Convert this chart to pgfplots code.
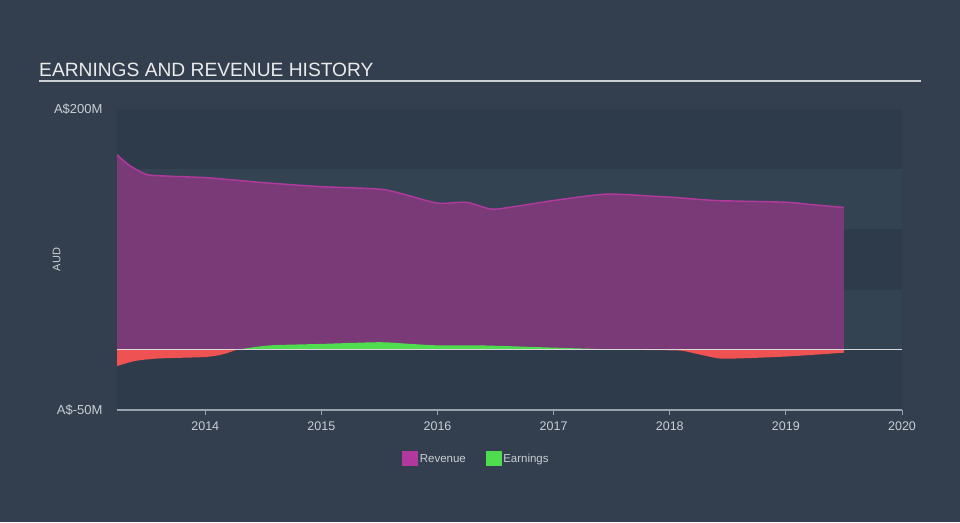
\documentclass[border=0pt]{standalone}
\usepackage{pgfplots}
\pgfplotsset{compat=1.18}
\usepackage{fontspec}
\setmainfont{Liberation Sans}
\definecolor{bg}{HTML}{333F4E}
\definecolor{banddark}{HTML}{2D3B4A}
\definecolor{bandlight}{HTML}{344352}
\definecolor{revfill}{HTML}{7A3A77}
\definecolor{revline}{HTML}{B23A9E}
\definecolor{revleg}{HTML}{B0399E}
\definecolor{earnpos}{HTML}{4FDC4F}
\definecolor{earnneg}{HTML}{EE5252}
\definecolor{txt}{HTML}{C9CED4}
\definecolor{axisgray}{HTML}{9AA3AD}
\begin{document}
\begin{tikzpicture}
\fill[bg] (0pt,0pt) rectangle (960pt,522pt);
\node[anchor=base west, text=white!92!black, font=\fontsize{19.2}{23}\selectfont, inner sep=0pt] at (39pt,445.5pt) {EARNINGS AND REVENUE HISTORY};
\draw[color=white!75!bg, line width=1.5pt] (39pt,441pt) -- (921pt,441pt);
\begin{axis}[
  at={(117pt,112pt)}, anchor=south west,
  width=785pt, height=301pt, scale only axis,
  xmin=2013.24, xmax=2020, ymin=-50, ymax=200,
  axis background/.style={fill=banddark},
  axis x line*=bottom, axis y line*=left,
  y axis line style={draw=none},
  x axis line style={draw=axisgray, line width=1.2pt, -},
  xtick={2014,2015,2016,2017,2018,2019,2020},
  xticklabels={2014,2015,2016,2017,2018,2019,2020},
  tick align=outside,
  xtick style={draw=axisgray, line width=1pt},
  major tick length=5pt,
  ytick={-50,200}, yticklabels={A\$-50M,A\$200M},
  ytick style={draw=none},
  yticklabel style={xshift=-6pt, text=txt, font=\fontsize{13}{15}\selectfont},
  xticklabel style={yshift=-3pt, text=txt, font=\fontsize{12.5}{14}\selectfont},
  ylabel={AUD}, ylabel style={at={(axis description cs:-0.077,0.5)}, anchor=center, text=txt, font=\fontsize{11}{13}\selectfont},
  legend columns=2,
  legend style={at={(0.458,-0.16)}, anchor=center, draw=none, fill=none, text=txt, font=\fontsize{11.5}{13}\selectfont,
    /tikz/every even column/.append style={column sep=18pt}},
  legend image code/.code={\fill[#1] (-4pt,-6pt) rectangle (11pt,8pt);},
  clip=true,
]
\path[fill=bandlight] (axis cs:2013.24,100) rectangle (axis cs:2020,150);
\path[fill=bandlight] (axis cs:2013.24,0) rectangle (axis cs:2020,50);
% revenue area
\addplot[fill=revfill, draw=none, smooth, tension=0.4, forget plot] coordinates {
(2013.24,162) (2013.35,153) (2013.5,145.5) (2013.7,144.2) (2014.0,143) (2014.25,141) (2014.55,138.5)
(2015.0,135.5) (2015.5,133.5) (2015.7,129.5) (2016.0,121.8) (2016.25,122.5) (2016.47,116.8) (2016.7,119.5)
(2017.0,124) (2017.45,129.3) (2017.85,127.6) (2018.05,126.5) (2018.4,124) (2019.0,122.6) (2019.2,120.8) (2019.5,118.2)
} \closedcycle;
% earnings positive
\addplot[fill=earnpos, draw=none, smooth, tension=0.4, forget plot] coordinates {
(2014.27,0) (2014.45,2.6) (2014.6,3.9) (2015.0,4.9) (2015.5,6.3) (2015.75,5.0) (2016.0,3.7) (2016.4,3.6)
(2017.0,1.8) (2017.5,0.3) (2017.6,0)
} \closedcycle;
% earnings negative
\addplot[fill=earnneg, draw=none, smooth, tension=0.4, forget plot] coordinates {
(2013.24,-13.5) (2013.4,-9.2) (2013.6,-7.2) (2014.0,-6) (2014.15,-3.8) (2014.27,0)
} \closedcycle;
\addplot[fill=earnneg, draw=none, smooth, tension=0.4, forget plot] coordinates {
(2017.6,0) (2018.0,-0.4) (2018.12,-1.0) (2018.3,-4.8) (2018.47,-7.4) (2019.0,-5.6) (2019.5,-2.4)
} \closedcycle;
% zero line
\addplot[draw=white!85!black, line width=0.9pt, forget plot] coordinates {(2013.24,0) (2020,0)};
% revenue line
\addplot[draw=revline, line width=1.4pt, smooth, tension=0.4, forget plot] coordinates {
(2013.24,162) (2013.35,153) (2013.5,145.5) (2013.7,144.2) (2014.0,143) (2014.25,141) (2014.55,138.5)
(2015.0,135.5) (2015.5,133.5) (2015.7,129.5) (2016.0,121.8) (2016.25,122.5) (2016.47,116.8) (2016.7,119.5)
(2017.0,124) (2017.45,129.3) (2017.85,127.6) (2018.05,126.5) (2018.4,124) (2019.0,122.6) (2019.2,120.8) (2019.5,118.2)
};
\addlegendimage{revleg}
\addlegendentry{Revenue}
\addlegendimage{earnpos}
\addlegendentry{Earnings}
\end{axis}
\end{tikzpicture}
\end{document}
